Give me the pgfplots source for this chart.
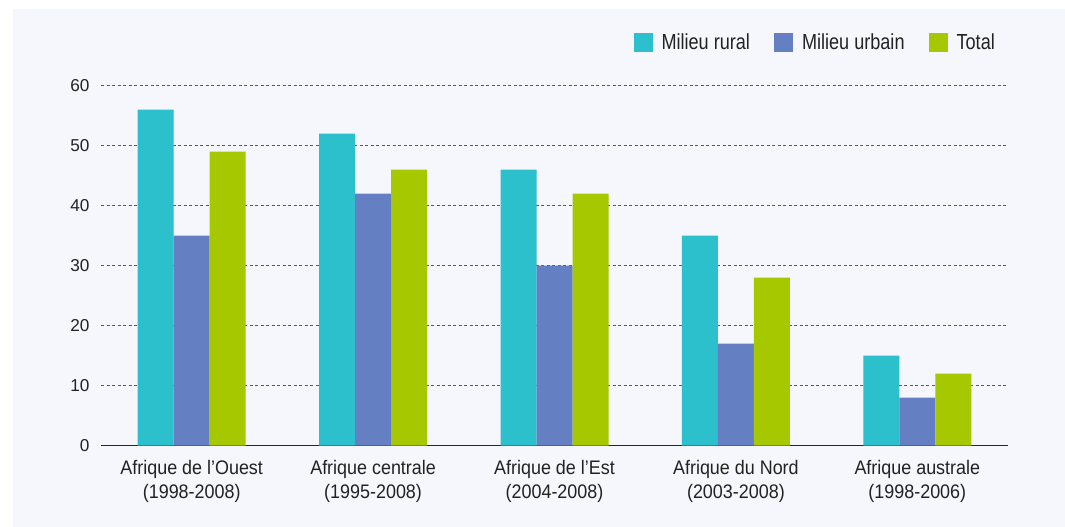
\documentclass[border=0pt]{standalone}
\usepackage{fontspec}
\setmainfont{Liberation Sans}[FakeStretch=0.915]
\newfontfamily\legfont{Liberation Sans}[FakeStretch=0.83]
\newfontfamily\tickfont{Liberation Sans}
\usepackage{pgfplots}
\pgfplotsset{compat=1.18}
\definecolor{rural}{HTML}{2CBFCC}
\definecolor{urbain}{HTML}{6480C3}
\definecolor{total}{HTML}{A5C800}
\definecolor{bg}{HTML}{F6F7FC}
\definecolor{txt}{HTML}{222222}
\begin{document}
\begin{tikzpicture}[x=1pt,y=1pt,font=\fontsize{19.6}{24}\selectfont]
\fill[white] (0,0) rectangle (1065,-527);
\fill[bg] (13,-9) rectangle (1065,-527);
\begin{axis}[
  at={(101pt,-445.7pt)}, anchor=south west,
  scale only axis, width=907pt, height=360pt,
  ymin=0, ymax=60, xmin=-0.5, xmax=4.5,
  ybar=0pt, bar width=36pt,
  axis x line*=bottom, axis y line*=left,
  axis line style={-},
  y axis line style={draw=none},
  x axis line style={draw=black!85, line width=1.4pt},
  ytick={0,10,...,60},
  ymajorgrids,
  grid style={dash pattern=on 3pt off 2.5pt, black!65, line width=1pt},
  major tick length=0pt,
  xtick={0,1,2,3,4},
  xticklabels={{Afrique de l’Ouest\\(1998-2008)},{Afrique centrale\\(1995-2008)},{Afrique de l’Est\\(2004-2008)},{Afrique du Nord\\(2003-2008)},{Afrique australe\\(1998-2006)}},
  /pgf/number format/assume math mode=true,
  xticklabel style={align=center, text=txt, font=\fontsize{19.6}{24}\selectfont, yshift=-11.5pt},
  yticklabel style={text=txt, xshift=-8pt, font=\tickfont\fontsize{17.2}{20}\selectfont},
  legend style={at={(rel axis cs:0.9857,1.12)}, anchor=east, draw=none, fill=none, inner sep=0pt,
    legend columns=3, font=\legfont\fontsize{21.8}{24}\selectfont, text=txt,
    nodes={inner sep=0pt},
    /tikz/every odd column/.append style={column sep=9pt},
    /tikz/every even column/.append style={column sep=24pt}},
  legend image code/.code={\fill[#1] (0pt,-9.5pt) rectangle (19pt,9.5pt);},
  legend cell align=left,
]
\addplot[fill=rural, draw=none] coordinates {(0,56) (1,52) (2,46) (3,35) (4,15)};
\addplot[fill=urbain, draw=none] coordinates {(0,35) (1,42) (2,30) (3,17) (4,8)};
\addplot[fill=total, draw=none] coordinates {(0,49) (1,46) (2,42) (3,28) (4,12)};
\legend{Milieu rural, Milieu urbain, Total}
\end{axis}
\end{tikzpicture}
\end{document}
